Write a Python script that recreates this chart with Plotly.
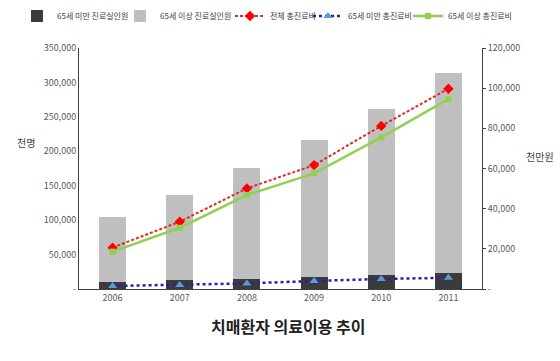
import plotly.graph_objects as go

years = ["2006", "2007", "2008", "2009", "2010", "2011"]
under65_people = [10000, 13000, 15000, 18000, 20000, 23000]
over65_people = [95000, 124000, 161000, 198000, 242000, 290000]
total_cost = [20600, 33500, 50100, 61700, 81200, 99700]
under65_cost = [1500, 2000, 2800, 4000, 5000, 5600]
over65_cost = [18600, 30500, 46800, 57600, 75500, 94500]

left_ticks = [0, 50000, 100000, 150000, 200000, 250000, 300000, 350000]
left_ticktext = ["-"] + [f"{v:,}" for v in left_ticks[1:]]
right_ticks = [0, 20000, 40000, 60000, 80000, 100000, 120000]
right_ticktext = ["-"] + [f"{v:,}" for v in right_ticks[1:]]

FONT = "Noto Sans CJK KR"
L, R, T, B = 79, 78, 48, 72
W, H = 560, 361

fig = go.Figure()
fig.add_bar(x=years, y=under65_people, name="65세 미만 진료실인원", legend="legend",
            marker=dict(color="#3b3b3b", line=dict(width=0)), width=0.4)
fig.add_bar(x=years, y=over65_people, name="65세 이상 진료실인원", legend="legend2",
            marker=dict(color="#bfbfbf", line=dict(width=0)), width=0.4)
fig.add_scatter(x=years, y=total_cost, name="전체 총진료비", yaxis="y2", legend="legend3",
                mode="lines+markers",
                line=dict(color="#e02a2a", dash="3px,2px", width=2),
                marker=dict(symbol="diamond", size=8, color="#ff0000"))
fig.add_scatter(x=years, y=under65_cost, name="65세 미만 총진료비", yaxis="y2", legend="legend4",
                mode="lines+markers",
                line=dict(color="#2323a8", dash="dot", width=2.5),
                marker=dict(symbol="triangle-up", size=8, color="#5b9bd5"))
fig.add_scatter(x=years, y=over65_cost, name="65세 이상 총진료비", yaxis="y2", legend="legend5",
                mode="lines+markers",
                line=dict(color="#92d050", width=2.5),
                marker=dict(symbol="square", size=6, color="#92d050"))

pw, ph = W - L - R, H - T - B


def ann(text, px, py, size, color, angle=0):
    return dict(text=text, x=(px - L) / pw, y=(H - B - py) / ph,
                xref="paper", yref="paper", showarrow=False, textangle=angle,
                font=dict(size=size, color=color, family=FONT),
                xanchor="center", yanchor="middle")


def leg(text_start):
    return dict(orientation="h", xref="container", yref="container",
                x=(text_start - 40) / W, xanchor="left",
                y=(H - 16) / H, yanchor="middle",
                font=dict(size=8, color="#404040", family=FONT),
                itemwidth=30, bgcolor="rgba(0,0,0,0)", borderwidth=0)


fig.update_layout(
    width=W, height=H,
    margin=dict(l=L, r=R, t=T, b=B, autoexpand=False),
    paper_bgcolor="white", plot_bgcolor="white",
    barmode="stack", bargap=0.6,
    font=dict(family=FONT, size=9, color="#595959"),
    showlegend=True,
    legend=leg(57), legend2=leg(160), legend3=leg(270),
    legend4=leg(348), legend5=leg(448),
    xaxis=dict(showline=True, linecolor="#404040", linewidth=1, ticks="",
               tickfont=dict(size=9, color="#595959"), showgrid=False),
    yaxis=dict(range=[0, 350000], tickvals=left_ticks, ticktext=left_ticktext,
               showline=True, linecolor="#404040", linewidth=1, showgrid=False,
               zeroline=False, ticks="", tickfont=dict(size=9, color="#595959")),
    yaxis2=dict(range=[0, 120000], tickvals=right_ticks, ticktext=right_ticktext,
                overlaying="y", side="right", showline=True, linecolor="#404040",
                linewidth=1, showgrid=False, zeroline=False, ticks="outside",
                ticklen=3, tickcolor="#404040",
                tickfont=dict(size=9, color="#595959")),
    annotations=[
        ann("천명", 26, 142, 10, "#404040"),
        ann("천만원", 540, 156, 10, "#404040"),
        ann("<b>치매환자 의료이용 추이</b>", 288, 326, 16, "#222222"),
    ],
)
fig.write_html("out.html", config={"displayModeBar": False},
               post_script="document.body.style.margin='0';")
